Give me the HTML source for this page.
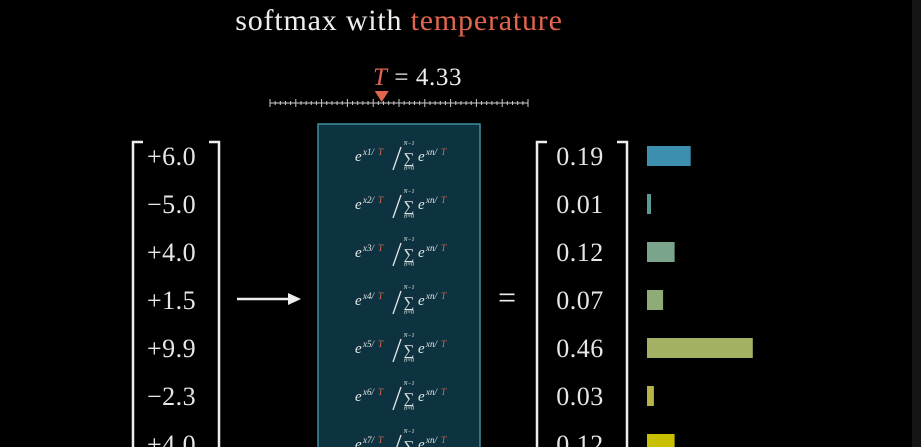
<!DOCTYPE html>
<html><head><meta charset="utf-8"><style>
html,body{margin:0;padding:0;background:#000;}
#wrap{position:relative;width:921px;height:447px;overflow:hidden;background:#000;font-family:"Liberation Serif",serif;color:#eee;}
</style></head><body>
<div id="wrap">
<svg id="svg" width="921" height="447" xmlns="http://www.w3.org/2000/svg">
<rect x="912" y="0" width="9" height="447" fill="#151515"/>
<text x="399" y="30" text-anchor="middle" font-family="Liberation Serif, serif" font-size="30" letter-spacing="0.8" fill="#eee">softmax with <tspan fill="#e2654f">temperature</tspan></text>
<text x="373" y="85" font-family="Liberation Serif, serif" font-size="25" letter-spacing="0.6" fill="#eee"><tspan fill="#e2654f" font-style="italic">T</tspan> = 4.33</text>
<g id="slider"></g>
<rect x="318" y="124" width="162" height="340" fill="#0d3340" stroke="#3f8fa0" stroke-width="1.5"/>
<g id="left"></g>
<g id="formulas"></g>
<g id="right"></g>
<g id="bars"></g>
<line x1="237" y1="299" x2="290" y2="299" stroke="#eee" stroke-width="2.5"/>
<polygon points="288,293 301,299 288,305" fill="#eee"/>
<text x="507" y="308" text-anchor="middle" font-size="32" fill="#eee">=</text>
</svg>
</div>
<script>
const inputs = ["+6.0","\u22125.0","+4.0","+1.5","+9.9","\u22122.3","+4.0"];
const probs = [0.19,0.01,0.12,0.07,0.46,0.03,0.12];
const probLabels = ["0.19","0.01","0.12","0.07","0.46","0.03","0.12"];
const barColors = ["#3d8fb0","#5b9a94","#7aa58c","#8fac78","#a3b163","#b5b547","#c9c000"];
const tempValue = 4.33;
const tempMin = 0, tempMax = 10;

const NS="http://www.w3.org/2000/svg";
function mk(tag,attrs,parent){const e=document.createElementNS(NS,tag);for(const k in attrs)e.setAttribute(k,attrs[k]);parent.appendChild(e);return e;}
const rowY = i => 156 + i*48;
const barX = 647, barScale = 230;
const barW = v => Math.max(4, v*barScale);
const sliderX = v => 270 + (v-tempMin)/(tempMax-tempMin)*258;

const sl=document.getElementById('slider');
let ln=mk('line',{x1:270,y1:103,x2:528,y2:103,stroke:'#ccc','stroke-width':1},sl);


for(let i=0;i<=50;i++){const x=270+i*258/50;const big=i%5===0;
 const t=mk('line',{x1:x,y1:big?99:101,x2:x,y2:big?107:105,stroke:'#ccc','stroke-width':1},sl);
 
 }
const tx=sliderX(tempValue);
const tri=mk('polygon',{points:`${tx-7},91 ${tx+7},91 ${tx},102`,fill:'#e2654f'},sl);



function bracket(g,x1,x2,name){
 const b=mk('path',{d:`M${x1+10},142 L${x1},142 L${x1},460`,stroke:'#eee','stroke-width':2.5,fill:'none'},g);
 
 
 const c=mk('path',{d:`M${x2-10},142 L${x2},142 L${x2},460`,stroke:'#eee','stroke-width':2.5,fill:'none'},g);
 
 
}
function txt(parent,x,y,size,s,name,extra){
 const a=Object.assign({x:x,y:y,'font-size':size,fill:'#e6e6e6','font-family':'Liberation Serif, serif'},extra||{});
 const t=mk('text',a,parent);t.textContent=s;
 
 
 return t;
}
const L=document.getElementById('left'),R=document.getElementById('right'),B=document.getElementById('bars'),F=document.getElementById('formulas');
bracket(L,133,219,'input');
bracket(R,537,627,'output');
inputs.forEach((s,i)=>{
 const y=rowY(i);
 txt(L,147,y+9,26,s,'input-value',{'letter-spacing':'0.5'});
 txt(F,355,y+5,15,'e','formula-exp-base',{'font-style':'italic'});
 txt(F,363,y-1,9,'x'+(i+1)+'/','formula-exponent',{'font-style':'italic'});
 txt(F,378,y-1,9,'T','formula-temperature',{'font-style':'italic',fill:'#e2654f'});
 const sl2=mk('line',{x1:401,y1:y-9,x2:393,y2:y+14,stroke:'#e6e6e6','stroke-width':1.3},F);
 
 
 txt(F,409,y-11,6,'N\u22121','sum-upper-limit',{'font-style':'italic','text-anchor':'middle'});
 txt(F,409,y+7,15,'\u2211','sum-sign',{'text-anchor':'middle'});
 txt(F,409,y+14,6,'n=0','sum-lower-limit',{'font-style':'italic','text-anchor':'middle'});
 txt(F,418,y+5,15,'e','formula-exp-base',{'font-style':'italic'});
 txt(F,426,y-1,9,'xn/','formula-exponent',{'font-style':'italic'});
 txt(F,441,y-1,9,'T','formula-temperature',{'font-style':'italic',fill:'#e2654f'});
});
probs.forEach((v,i)=>{
 txt(R,580,rowY(i)+9,26,probLabels[i],'probability-value',{'text-anchor':'middle','letter-spacing':'0.5'});
 const r=mk('rect',{x:barX,y:rowY(i)-10,width:barW(v),height:20,fill:barColors[i]},B);
 
 
});
</script>
</body></html>
